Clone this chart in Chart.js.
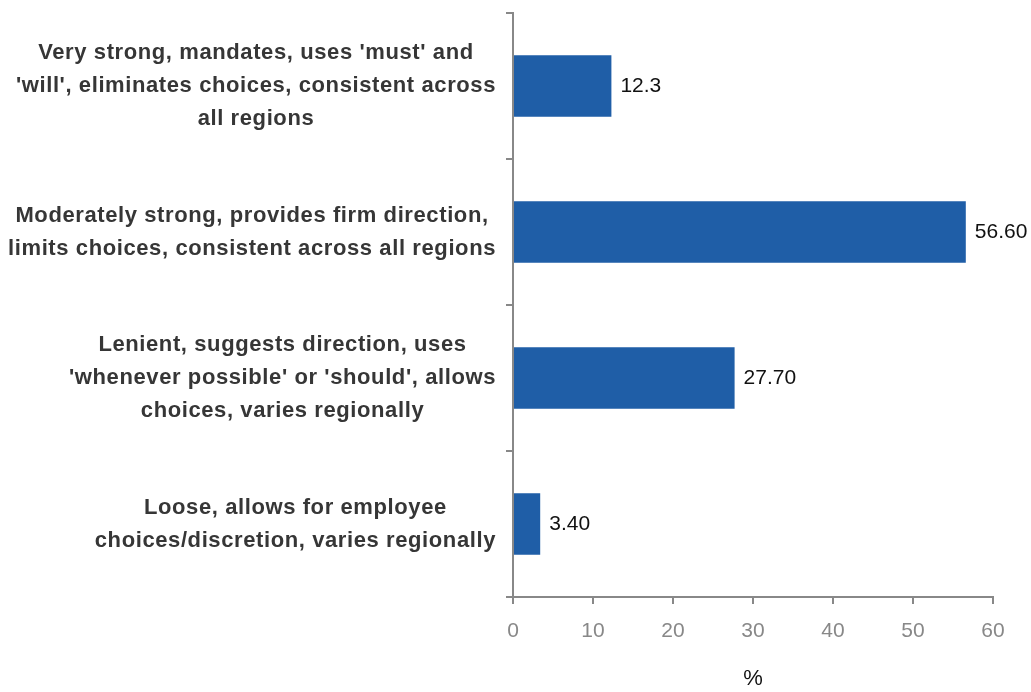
<!DOCTYPE html>
<html>
<head>
<meta charset="utf-8">
<script src="https://cdn.jsdelivr.net/npm/chart.js@4.4.1/dist/chart.umd.min.js"></script>
<style>
  html, body { margin: 0; padding: 0; background: #fff; }
  #wrap { width: 1031px; height: 692px; }
</style>
</head>
<body>
<div id="wrap"><canvas id="bars"></canvas></div>
<script>
const categories = [
  ["Very strong, mandates, uses 'must' and", "'will', eliminates choices, consistent across", "all regions"],
  ["Moderately strong, provides firm direction,", "limits choices, consistent across all regions"],
  ["Lenient, suggests direction, uses", "'whenever possible' or 'should', allows", "choices, varies regionally"],
  ["Loose, allows for employee", "choices/discretion, varies regionally"]
];
const values = [12.3, 56.6, 27.7, 3.4];
const decimals = [1, 2, 2, 2];
const xTicks = [0, 10, 20, 30, 40, 50, 60];

const FONT = "'Liberation Sans', Arial, sans-serif";

// category text: each block sits flush right against the axis,
// its lines centred on the block's widest line
const categoryLabels = {
  id: "categoryLabels",
  afterDraw(chart) {
    const ctx = chart.ctx;
    const y = chart.scales.y;
    const right = chart.chartArea.left - 17;
    const lineH = 33;
    ctx.save();
    ctx.letterSpacing = "0.6px";
    ctx.font = "bold 22px " + FONT;
    ctx.fillStyle = "#363636";
    ctx.textAlign = "center";
    ctx.textBaseline = "middle";
    categories.forEach((lines, i) => {
      const widest = Math.max(...lines.map(l => ctx.measureText(l).width));
      const cx = right - widest / 2;
      const cy = y.getPixelForTick(i);
      lines.forEach((l, j) => {
        ctx.fillText(l, cx, cy + (j - (lines.length - 1) / 2) * lineH);
      });
    });
    ctx.restore();
  }
};

// writes the value just past the end of each bar
const valueLabels = {
  id: "valueLabels",
  afterDatasetsDraw(chart) {
    const ctx = chart.ctx;
    const meta = chart.getDatasetMeta(0);
    ctx.save();
    ctx.font = "21px " + FONT;
    ctx.fillStyle = "#111";
    ctx.textAlign = "left";
    ctx.textBaseline = "middle";
    meta.data.forEach((bar, i) => {
      ctx.fillText(values[i].toFixed(decimals[i]), bar.x + 9, bar.y);
    });
    ctx.restore();
  }
};

new Chart(document.querySelector("#bars"), {
  type: "bar",
  data: {
    labels: categories,
    datasets: [{
      data: values,
      backgroundColor: "#1f5ea7",
      borderWidth: 0,
      categoryPercentage: 1,
      barPercentage: 0.42,
    }],
  },
  options: {
    indexAxis: "y",
    responsive: true,
    maintainAspectRatio: false,
    animation: false,
    layout: { padding: { top: 13, right: 38, left: 0, bottom: 0 } },
    plugins: {
      legend: { display: false },
      tooltip: { enabled: false },
    },
    scales: {
      x: {
        min: 0,
        max: 60,
        afterBuildTicks(axis) {
          axis.ticks = xTicks.map(v => ({ value: v }));
        },
        afterFit(axis) {
          axis.height = 95;
        },
        border: { display: true, color: "#888", width: 2 },
        grid: { drawOnChartArea: false, drawTicks: true, tickLength: 7, color: "#888", lineWidth: 2 },
        ticks: { color: "#888", font: { family: FONT, size: 21 }, padding: 15 },
        title: {
          display: true,
          text: "%",
          color: "#111",
          font: { family: FONT, size: 22 },
          padding: { top: 21, bottom: 0 },
        },
      },
      y: {
        afterFit(axis) {
          axis.width = 513;
          axis.paddingTop = 0;
          axis.paddingBottom = 0;
        },
        border: { display: true, color: "#888", width: 2 },
        grid: { offset: true, drawOnChartArea: false, drawTicks: true, tickLength: 7, color: "#888", lineWidth: 2 },
        ticks: { display: false },
      },
    },
  },
  plugins: [categoryLabels, valueLabels],
});
</script>
</body>
</html>
